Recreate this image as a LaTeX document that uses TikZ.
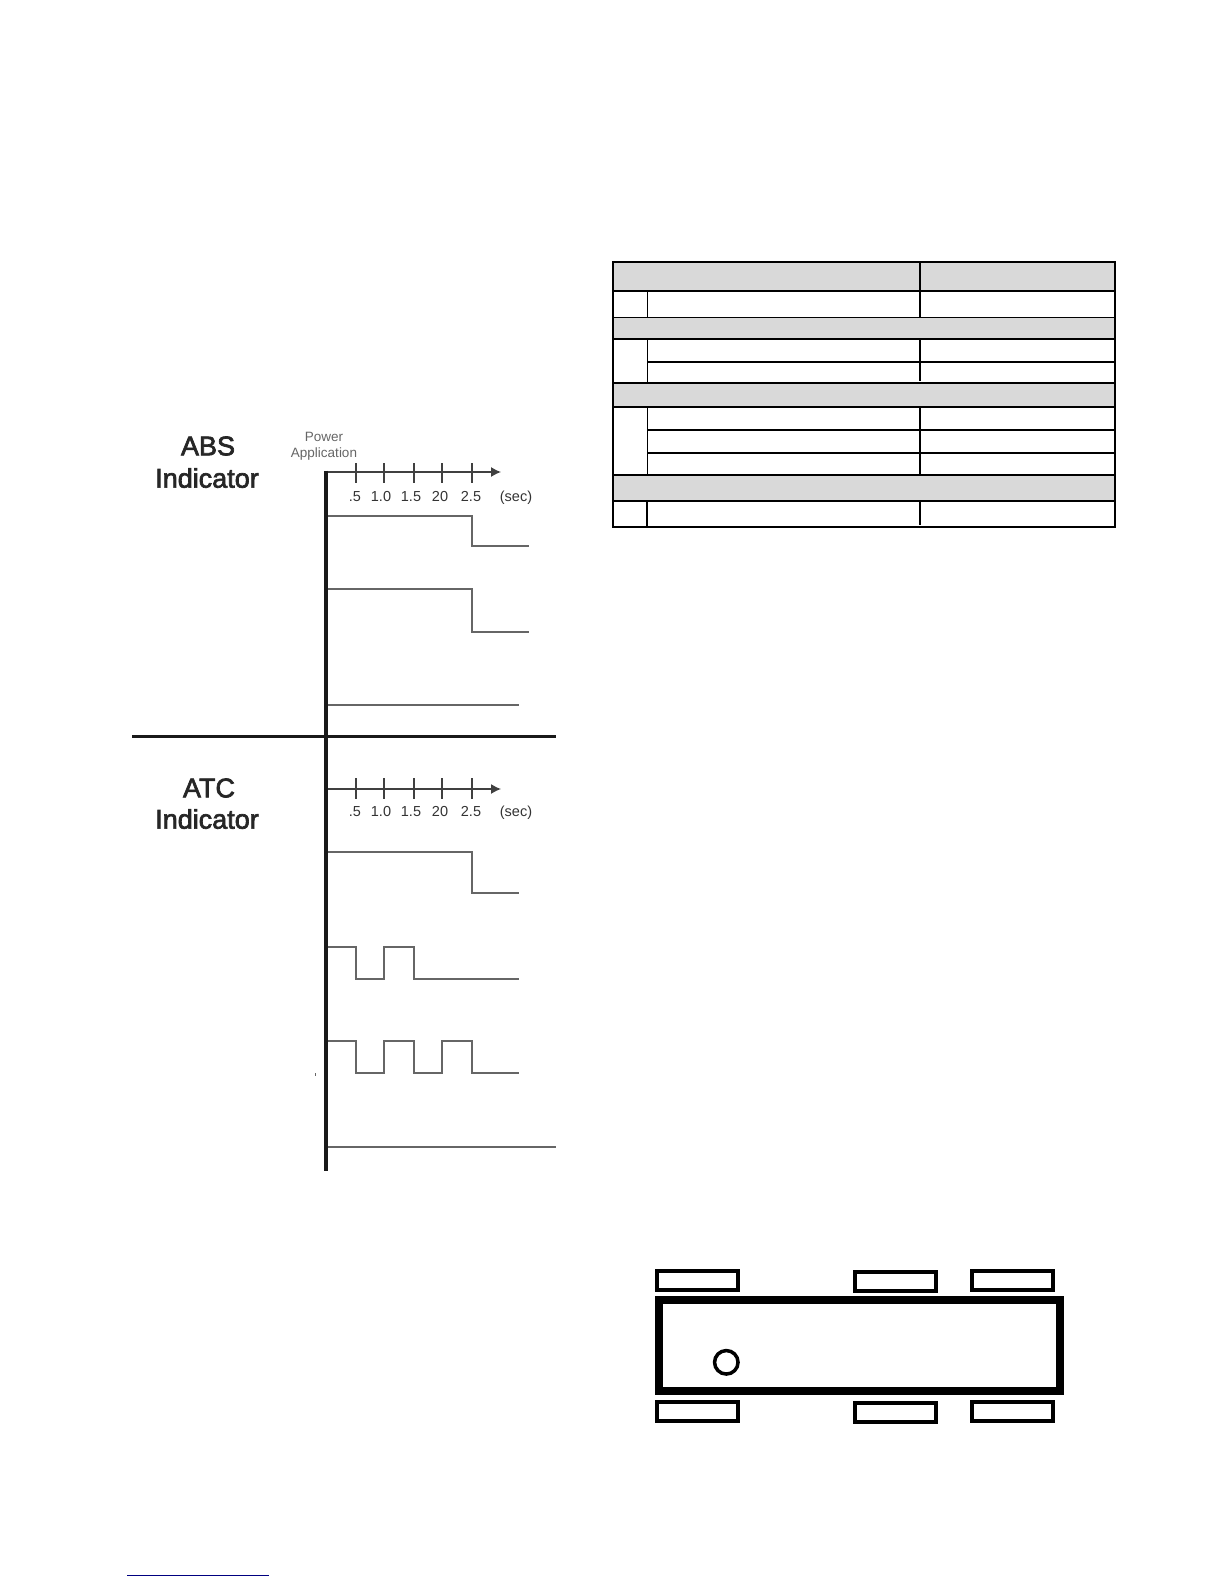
\documentclass[tikz,border=0pt]{standalone}
\usepackage{fontspec}
\setmainfont{Liberation Sans}
\newfontfamily\headfont[FakeBold=2.5]{Liberation Sans}
\usetikzlibrary{arrows.meta}
\definecolor{cellgray}{HTML}{D9D9D9}
\definecolor{linkblue}{HTML}{000080}
\tikzset{
  heading/.style={inner sep=0pt,text=black!85,font=\headfont\fontsize{27}{27}\selectfont},
  ticktext/.style={inner sep=0pt,anchor=base,text=black!80,font=\fontsize{14.5}{14.5}\selectfont},
  powertext/.style={inner sep=0pt,text=black!60,font=\fontsize{13.5}{13.5}\selectfont},
  steptrace/.style={draw=black!60,line width=1.6pt,line join=miter},
  timeaxis/.style={draw=black!75,line width=1.3pt},
  celledge/.style={line width=1.9pt},
  wheelbox/.style={draw,line width=4pt,minimum width=81pt,minimum height=19pt,inner sep=0pt}
}
\begin{document}
\begin{tikzpicture}[x=1pt,y=-1pt]
\useasboundingbox (0,0) rectangle (1224,1584);

% ABS side
\node[heading] (absA) at (208,446) {ABS};
\node[heading] (absB) at (207,478) {Indicator};
\node[powertext] (power) at (324,437) {Power};
\node[powertext] (appl) at (324,454.5) {Application};
\coordinate (absO) at (326,472);
\coordinate (absE) at (501,472);
\draw[timeaxis,-{Latex[length=10pt,width=10pt]}] (absO) -- (absE);
\foreach \xx/\lx/\txt in {356/355/.5,384/381/1.0,414/411/1.5,442/440/20,472/471/2.5}{
  \draw[timeaxis] (\xx,463) -- (\xx,483);
  \node[ticktext] at (\lx,501) {\txt};
}
\node[ticktext] (absSec) at (516,501) {(sec)};
\draw[steptrace] (326,516) -- (472,516) -- (472,546) -- (529,546);
\draw[steptrace] (326,589) -- (472,589) -- (472,632) -- (529,632);
\draw[steptrace] (326,705) -- (519,705);

% ATC side
\node[heading] (atcA) at (209,788) {ATC};
\node[heading] (atcB) at (207,819) {Indicator};
\coordinate (atcO) at (326,789);
\coordinate (atcE) at (501,789);
\draw[timeaxis,-{Latex[length=10pt,width=10pt]}] (atcO) -- (atcE);
\foreach \xx/\lx/\txt in {356/355/.5,384/381/1.0,414/411/1.5,442/440/20,472/471/2.5}{
  \draw[timeaxis] (\xx,778) -- (\xx,799);
  \node[ticktext] at (\lx,816) {\txt};
}
\node[ticktext] (atcSec) at (516,816) {(sec)};
\draw[steptrace] (326,852) -- (472,852) -- (472,893) -- (519,893);
\draw[steptrace] (326,947) -- (356,947) -- (356,979) -- (384,979) -- (384,947) -- (414,947) -- (414,979) -- (519,979);
\draw[steptrace] (326,1041) -- (356,1041) -- (356,1073) -- (384,1073) -- (384,1041) -- (414,1041) -- (414,1073) -- (442,1073) -- (442,1041) -- (472,1041) -- (472,1073) -- (519,1073);
\draw[steptrace] (326,1147) -- (556,1147);
\fill[black!60] (315.2,1072.5) rectangle (316.4,1075.5);

% main lines
\draw[line width=3.6pt,black!90] (326,470.5) -- (326,1171);
\draw[line width=3pt,black!90] (132,736) -- (556,736);

% table
\fill[cellgray] (613,262) rectangle (1115,291);
\fill[cellgray] (613,317) rectangle (1115,339);
\fill[cellgray] (613,383) rectangle (1115,407);
\fill[cellgray] (613,475) rectangle (1115,501);
\draw[celledge] (613,262) rectangle (1115,527);
\foreach \yy in {291,339,383,407,475,501}{
  \draw[celledge] (613,\yy) -- (1115,\yy);
}
\draw[line width=1pt] (613,317) -- (1115,317);
\draw[celledge] (647.5,362) -- (1115,362);
\draw[celledge] (647.5,430) -- (1115,430);
\draw[celledge] (647.5,453) -- (1115,453);
\draw[celledge] (920,262) -- (920,317);
\draw[celledge] (920,339) -- (920,381);
\draw[celledge] (920,407) -- (920,475);
\draw[celledge] (920,501) -- (920,525);
\draw[line width=1.2pt] (647.5,291) -- (647.5,317);
\draw[line width=1.2pt] (647.5,339) -- (647.5,383);
\draw[line width=1.2pt] (647.5,407) -- (647.5,475);
\draw[celledge] (647,501) -- (647,527);

% vehicle
\draw[line width=8pt] (659,1300) rectangle (1060,1391);
\node[wheelbox] (wheelA) at (697.5,1280.5) {};
\node[wheelbox] (wheelB) at (895,1281.5) {};
\node[wheelbox] (wheelC) at (1012.5,1280.5) {};
\node[wheelbox] (wheelD) at (697.5,1411) {};
\node[wheelbox] (wheelE) at (895,1412) {};
\node[wheelbox] (wheelF) at (1012.5,1411) {};
\node[draw,circle,line width=3.5pt,minimum size=23.5pt,inner sep=0pt] (lamp) at (726.3,1362.3) {};

% rule at the foot
\draw[linkblue,line width=1pt] (127,1575.3) -- (269,1575.3);

\end{tikzpicture}
\end{document}
